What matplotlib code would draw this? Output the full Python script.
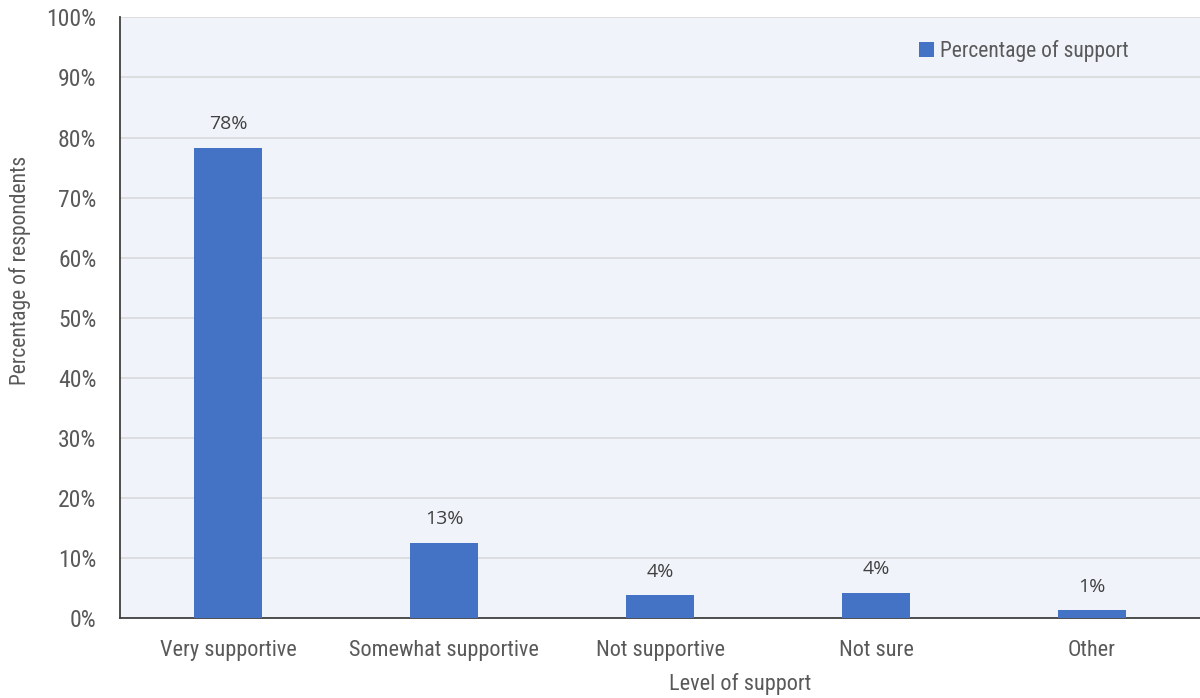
import matplotlib.pyplot as plt
from matplotlib import font_manager
import numpy as np

categories = ["Very supportive", "Somewhat supportive", "Not supportive", "Not sure", "Other"]
support = [78.3, 12.5, 3.8, 4.2, 1.25]
labels = ["78%", "13%", "4%", "4%", "1%"]

# narrow font if the machine has one, else plain DejaVu
names = {f.name for f in font_manager.fontManager.ttflist}
cond = "DejaVu Sans"
for n in ["Roboto Condensed", "Archivo Narrow", "Barlow Semi Condensed"]:
    if n in names:
        cond = n
        break
wt = "normal"

fig = plt.figure(figsize=(12, 6.98), dpi=100)
ax = fig.add_axes([0.1, 0.115, 0.9, 0.86])
ax.set_facecolor("#f0f4fa")

x = np.arange(len(categories))
ax.bar(x, support, width=0.315, color="#4472c4", label="Percentage of support", zorder=3)
for xi, v, t in zip(x, support, labels):
    ax.text(xi, v + 2.4, t, ha="center", va="bottom", fontsize=14,
            family="Open Sans", color="#404040")

ax.set_xlim(-0.5, 4.5)
ax.set_ylim(0, 100)
ax.set_yticks(np.arange(0, 101, 10))
ax.set_yticklabels([f"{v}%" for v in range(0, 101, 10)], family=cond, weight=wt,
                   fontsize=17, color="#595959")
ax.set_xticks(x)
ax.set_xticklabels(categories, family=cond, weight=wt, fontsize=16, color="#595959")
ax.tick_params(length=0)
ax.tick_params(axis="x", pad=16)
ax.tick_params(axis="y", pad=17)
ax.grid(axis="y", color="#d9d9d9", linewidth=1.2, zorder=0)
for s in ["top", "right"]:
    ax.spines[s].set_visible(False)
for s in ["left", "bottom"]:
    ax.spines[s].set_color("#404040")
    ax.spines[s].set_linewidth(1.3)

fig.text(0.617, 0.02, "Level of support", ha="center", va="center", family=cond,
         weight=wt, fontsize=16, color="#595959")
fig.text(0.017, 0.613, "Percentage of respondents", ha="center", va="center", rotation=90,
         family=cond, weight=wt, fontsize=15.5, color="#595959")

leg = ax.legend(loc="upper right", bbox_to_anchor=(0.952, 0.995), frameon=False,
                handlelength=0.7, handleheight=0.7, handletextpad=0.3,
                prop={"family": cond, "weight": wt, "size": 15.5})
for t in leg.get_texts():
    t.set_color("#595959")

fig.savefig("out.png", dpi=100)
